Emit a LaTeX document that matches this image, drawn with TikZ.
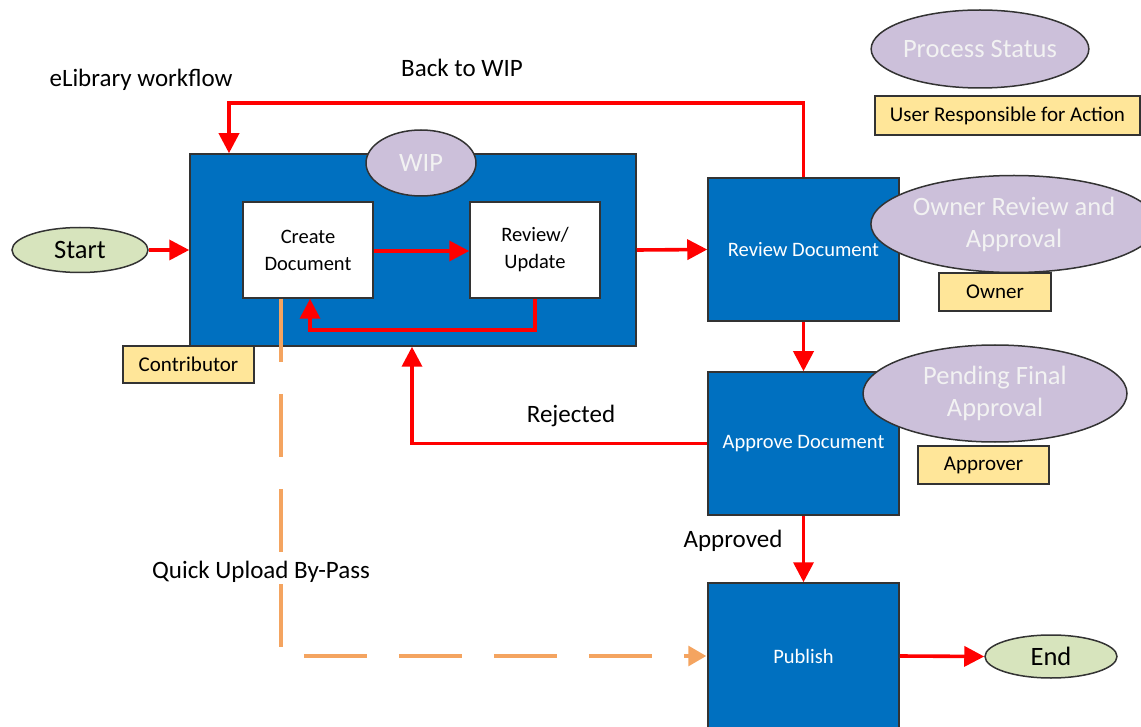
\documentclass[tikz,border=0pt]{standalone}
\usepackage{fontspec}
\setmainfont{Carlito}
\usetikzlibrary{arrows.meta,shapes.geometric}
\definecolor{boxblue}{HTML}{0070C0}
\definecolor{lav}{HTML}{CCC0DA}
\definecolor{yel}{HTML}{FFE699}
\definecolor{grn}{HTML}{D7E4BD}
\definecolor{org}{HTML}{F4A460}
\definecolor{ltxt}{HTML}{F2F2F2}
\tikzset{
  bluebox/.style={draw=black!80,line width=1.5pt,fill=boxblue,inner sep=0pt,text=white,font=\fontsize{20.5}{24}\selectfont,align=center},
  whitebox/.style={draw=black!80,line width=1.5pt,fill=white,inner sep=0pt,font=\fontsize{20.5}{27}\selectfont,align=center},
  status/.style={ellipse,draw=black!80,line width=1.5pt,fill=lav,inner sep=0pt,text=ltxt,align=center,font=\fontsize{26.5}{32}\selectfont},
  role/.style={draw=black!80,line width=1.5pt,fill=yel,inner sep=0pt,font=\fontsize{21}{25}\selectfont},
  term/.style={ellipse,draw=black!80,line width=1.5pt,fill=grn,inner sep=0pt,font=\fontsize{26.5}{30}\selectfont},
  lbl/.style={font=\fontsize{25}{30}\selectfont,inner sep=1pt},
  redarrow/.style={draw=red,line width=3.6pt,-{Triangle[length=20pt,width=20pt]}},
  bypass/.style={draw=org,line width=3.3pt,dash pattern=on 63pt off 32pt,-{Triangle[length=18pt,width=20pt]}}
}
\begin{document}
\begin{tikzpicture}[x=1pt,y=-1pt]
\useasboundingbox (0,0) rectangle (1141,727);
% main boxes
\node[bluebox,minimum width=446pt,minimum height=192pt] (wip) at (413,250) {};
\node[whitebox,minimum width=130pt,minimum height=96pt] (create) at (308,250) {Create\\Document};
\node[whitebox,minimum width=130pt,minimum height=96pt] (revupd) at (535,250) {Review/\\Update};
\node[bluebox,minimum width=191pt,minimum height=143pt] (revdoc) at (803.5,249.5) {Review Document};
\node[bluebox,minimum width=191pt,minimum height=143pt] (approve) at (803.5,443.5) {Approve Document};
\node[bluebox,minimum width=191pt,minimum height=146pt] (publish) at (803.5,656) {Publish};
% terminals
\node[term,minimum width=136pt,minimum height=45pt] (start) at (80,250) {Start};
\node[term,minimum width=132pt,minimum height=43pt] (end) at (1051,656.5) {End};
% status ellipses
\node[status,minimum width=110pt,minimum height=66pt] (wipst) at (421,163) {WIP};
\node[status,minimum width=210pt,minimum height=78pt] (procst) at (980,49) {Process Status};
\node[status,minimum width=254pt,minimum height=97pt] (ownerst) at (1014,224) {Owner Review and\\Approval};
\node[status,minimum width=264pt,minimum height=97pt] (pendst) at (995,393.5) {Pending Final\\Approval};
% roles
\node[role,minimum width=131pt,minimum height=37pt] (contrib) at (188.5,364.5) {Contributor};
\node[role,minimum width=265pt,minimum height=39pt] (user) at (1007.5,115.5) {User Responsible for Action};
\node[role,minimum width=112pt,minimum height=38pt] (owner) at (995,292) {Owner};
\node[role,minimum width=131pt,minimum height=38pt] (approver) at (983.5,465) {Approver};
% labels
\node[lbl] (title) at (141,80) {eLibrary workflow};
\node[lbl] (backlbl) at (462,68) {Back to WIP};
\node[lbl] (rejlbl) at (571,416) {Rejected};
\node[lbl] (applbl) at (733,541) {Approved};
% connectors
\draw[bypass] ([xshift=-27pt]create.south) |- ([xshift=-1pt]publish.west);
\node[lbl,fill=white,inner sep=1pt] (bylbl) at (261,572) {Quick Upload By-Pass};
\draw[redarrow] (start.east) -- (wip.west);
\draw[redarrow] ([yshift=-1pt]create.east) -- ([yshift=-1pt]revupd.west);
\draw[redarrow] (revupd.south) -- ++(0,31) -| ([xshift=2pt]create.south);
\draw[redarrow] (wip.east) -- (revdoc.west);
\draw[redarrow] (revdoc.north) -- ++(0,-74.5) -| ([xshift=-184pt]wip.north);
\draw[redarrow] (revdoc.south) -- (approve.north);
\draw[redarrow] (approve.west) -| ([xshift=-1pt]wip.south);
\draw[redarrow] (approve.south) -- (publish.north);
\draw[redarrow] (publish.east) -- (end.west);
\end{tikzpicture}
\end{document}
